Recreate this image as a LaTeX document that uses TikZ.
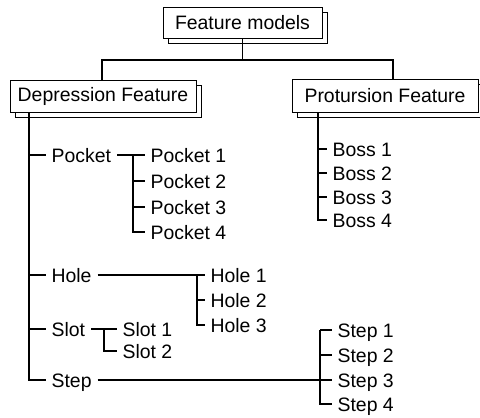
\documentclass[tikz,border=0pt]{standalone}
\usepackage{fontspec}
\setmainfont{Liberation Sans}
\usetikzlibrary{shadows}

\begin{document}
\begin{tikzpicture}[x=1bp, y=-1bp, line width=1.2bp,
    font=\fontsize{19.5}{20}\selectfont,
    box/.style={draw, fill=white, line width=0.9bp, inner sep=0pt,
        general shadow={shadow xshift=5bp, shadow yshift=-5bp, fill=white, draw, line width=0.9bp}},
    lbl/.style={anchor=west, inner xsep=5.5bp, inner ysep=0pt, text height=14bp, text depth=0pt}]
    \useasboundingbox (0,0) rectangle (480,417);

    % Boxes
    \node[box, minimum width=159bp, minimum height=31bp] (fm) at (242.5,22.5) {Feature models};
    \node[box, minimum width=186bp, minimum height=32bp] (dep) at (103,96) {Depression Feature};
    \node[box, minimum width=186bp, minimum height=33bp] (pro) at (385,95.5) {Protursion Feature};

    \coordinate (jl) at (102,60);
    \coordinate (jr) at (393,60);
    \draw (fm.south) -- (fm.south |- jl);
    \draw (dep.north -| jl) -- (jl) -- (jr) -- (pro.north -| jr);

    % Depression branches
    \node[lbl] (pocket) at (45.5,155) {Pocket};
    \node[lbl] (hole) at (45.5,275) {Hole};
    \node[lbl] (slot) at (45.5,329) {Slot};
    \node[lbl] (step) at (45.5,380) {Step};
    \coordinate (dt) at (29,0);
    \draw (dt |- dep.south) |- (step.west);
    \foreach \n in {pocket, hole, slot} \draw (dt |- \n.west) -- (\n.west);

    % Pocket
    \node[lbl] (p1) at (144.5,155) {Pocket 1};
    \node[lbl] (p2) at (144.5,181) {Pocket 2};
    \node[lbl] (p3) at (144.5,207) {Pocket 3};
    \node[lbl] (p4) at (144.5,232) {Pocket 4};
    \coordinate (pv) at (133,0);
    \draw (pocket.east) -- (p1.west);
    \draw (pv |- p1.west) |- (p4.west);
    \foreach \n in {p2, p3} \draw (pv |- \n.west) -- (\n.west);

    % Hole
    \node[lbl] (h1) at (204.5,275) {Hole 1};
    \node[lbl] (h2) at (204.5,300) {Hole 2};
    \node[lbl] (h3) at (204.5,325) {Hole 3};
    \coordinate (hv) at (197,0);
    \draw (hole.east) -- (h1.west);
    \draw (hv |- h1.west) |- (h3.west);
    \draw (hv |- h2.west) -- (h2.west);

    % Slot
    \node[lbl] (s1) at (116.5,329) {Slot 1};
    \node[lbl] (s2) at (116.5,351) {Slot 2};
    \coordinate (sv) at (104,0);
    \draw (slot.east) -- (s1.west);
    \draw (sv |- s1.west) |- (s2.west);

    % Step
    \node[lbl] (t1) at (331.5,330) {Step 1};
    \node[lbl] (t2) at (331.5,355) {Step 2};
    \node[lbl] (t3) at (331.5,380) {Step 3};
    \node[lbl] (t4) at (331.5,404) {Step 4};
    \coordinate (tv) at (320,0);
    \draw (step.east) -- (t3.west);
    \draw (tv |- t1.west) |- (t4.west);
    \draw (tv |- t1.west) -- (t1.west);
    \draw (tv |- t2.west) -- (t2.west);

    % Protursion branches
    \node[lbl] (b1) at (326.5,149) {Boss 1};
    \node[lbl] (b2) at (326.5,173) {Boss 2};
    \node[lbl] (b3) at (326.5,197) {Boss 3};
    \node[lbl] (b4) at (326.5,220) {Boss 4};
    \coordinate (bv) at (318,0);
    \draw (bv |- pro.south) |- (b4.west);
    \foreach \n in {b1, b2, b3} \draw (bv |- \n.west) -- (\n.west);
\end{tikzpicture}
\end{document}
